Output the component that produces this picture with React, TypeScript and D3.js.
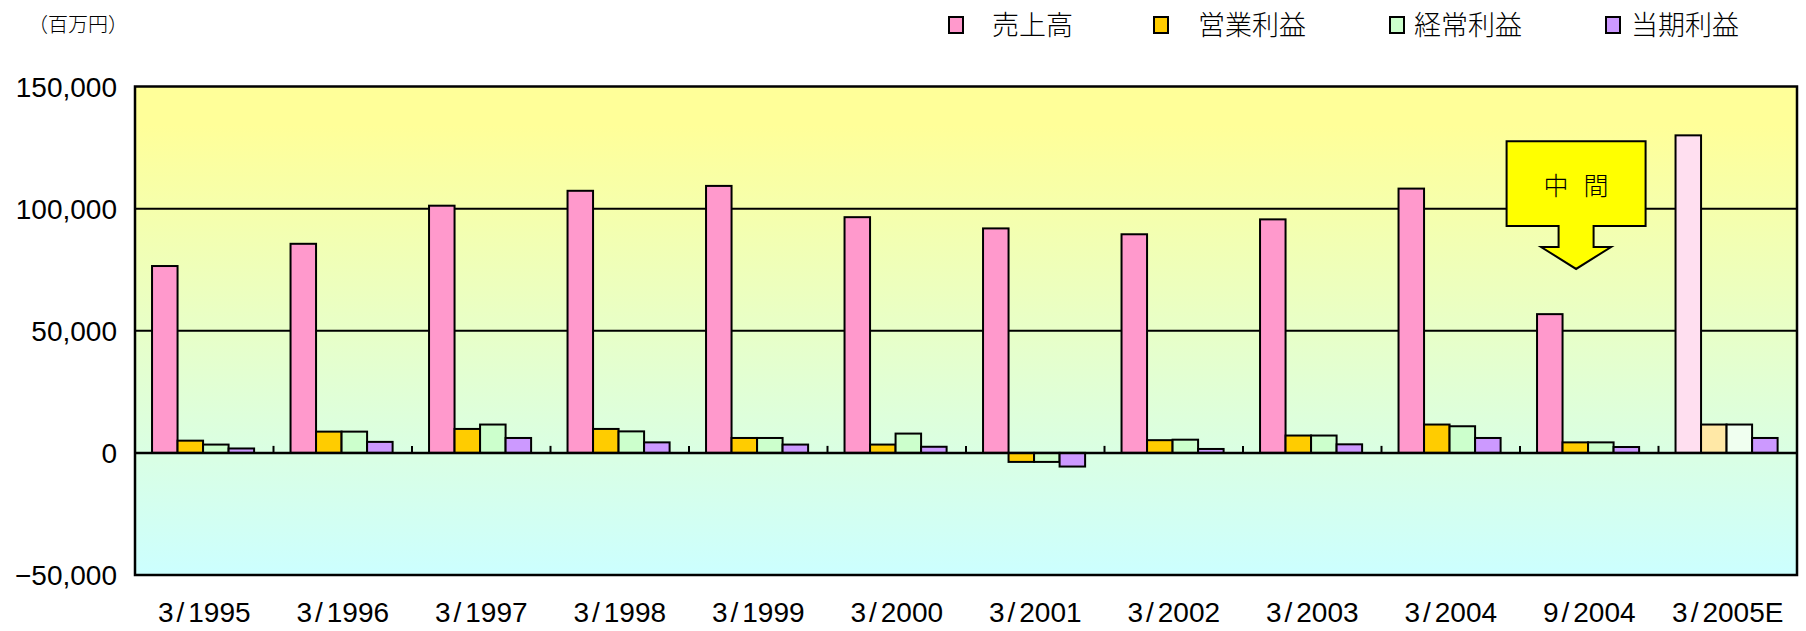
import { useEffect, useRef } from "react"
import * as d3 from "d3"

// categories (fiscal periods)
const categories = [
  "3/1995", "3/1996", "3/1997", "3/1998", "3/1999", "3/2000",
  "3/2001", "3/2002", "3/2003", "3/2004", "9/2004", "3/2005E",
]

// 売上高
const sales = [76500, 85600, 101200, 107300, 109300, 96500, 91900, 89500, 95600, 108200, 56800, 130000]
// 営業利益
const operatingProfit = [5000, 8700, 9800, 9800, 6100, 3400, -3700, 5200, 7100, 11600, 4300, 11600]
// 経常利益
const ordinaryProfit = [3400, 8700, 11600, 8800, 6100, 7900, -3700, 5400, 7100, 10900, 4300, 11600]
// 当期利益
const netProfit = [1800, 4500, 6100, 4300, 3400, 2500, -5600, 1600, 3500, 6100, 2400, 6100]

const seriesNames = ["売上高", "営業利益", "経常利益", "当期利益"]
const seriesColors = ["#ff99cc", "#ffcc00", "#ccffcc", "#cc99ff"]
const estimateColors = ["#ffdff0", "#ffe8a6", "#f0fff0", "#cc99ff"]
const estimateCategory = "3/2005E"

const yTicks = [-50000, 0, 50000, 100000, 150000]

// 中間 callout (value positions for the arrow box)
const calloutCategory = "9/2004"
const calloutChars = ["中", "間"]
const calloutBoxTop = 127600
const calloutBoxBottom = 92900
const calloutStemBottom = 84300
const calloutTip = 75300

export default function App() {
  const svgRef = useRef<SVGSVGElement>(null)

  useEffect(() => {
    if (!svgRef.current) return
    document.body.style.margin = "0"

    const svg = d3.select(svgRef.current)
    svg.selectAll("*").remove()

    const width = 1806
    const height = 631
    const left = 135
    const right = 1797
    const top = 86.5
    const bottom = 575

    svg.attr("width", width).attr("height", height)

    const numFont = "'Liberation Sans', Arial, sans-serif"
    const jpFont = "'Noto Sans CJK JP', sans-serif"

    const x = d3.scaleBand<string>().domain(categories).range([left, right]).padding(0)
    const step = x.bandwidth()
    const xSub = d3
      .scaleBand<number>()
      .domain([0, 1, 2, 3])
      .range([step * 0.123, step * 0.86])
      .padding(0)
    const y = d3.scaleLinear().domain([-50000, 150000]).range([bottom, top])

    // background gradient
    const defs = svg.append("defs")
    const grad = defs
      .append("linearGradient")
      .attr("id", "bg")
      .attr("x1", 0)
      .attr("y1", 0)
      .attr("x2", 0)
      .attr("y2", 1)
    grad.append("stop").attr("offset", "0%").attr("stop-color", "#ffff99")
    grad.append("stop").attr("offset", "8%").attr("stop-color", "#ffff99")
    grad.append("stop").attr("offset", "100%").attr("stop-color", "#ccffff")

    svg
      .append("rect")
      .attr("x", left)
      .attr("y", top)
      .attr("width", right - left)
      .attr("height", bottom - top)
      .attr("fill", "url(#bg)")

    // gridlines
    svg
      .selectAll(".grid")
      .data(yTicks.filter((t) => t > 0 && t < 150000))
      .enter()
      .append("line")
      .attr("x1", left)
      .attr("x2", right)
      .attr("y1", (d) => y(d))
      .attr("y2", (d) => y(d))
      .attr("stroke", "#000")
      .attr("stroke-width", 2)

    // bars
    const seriesValues = [sales, operatingProfit, ordinaryProfit, netProfit]
    const barData = categories.flatMap((cat, ci) =>
      seriesValues.map((vals, si) => ({ cat, si, value: vals[ci] }))
    )
    svg
      .selectAll(".bar")
      .data(barData)
      .enter()
      .append("rect")
      .attr("x", (d) => (x(d.cat) ?? 0) + (xSub(d.si) ?? 0))
      .attr("y", (d) => Math.min(y(d.value), y(0)))
      .attr("width", xSub.bandwidth())
      .attr("height", (d) => Math.abs(y(d.value) - y(0)))
      .attr("fill", (d) => (d.cat === estimateCategory ? estimateColors[d.si] : seriesColors[d.si]))
      .attr("stroke", "#000")
      .attr("stroke-width", 2)

    // zero line
    svg
      .append("line")
      .attr("x1", left)
      .attr("x2", right)
      .attr("y1", y(0))
      .attr("y2", y(0))
      .attr("stroke", "#000")
      .attr("stroke-width", 2.5)

    // category tick marks on zero line
    svg
      .selectAll(".xtick")
      .data(categories.slice(1))
      .enter()
      .append("line")
      .attr("x1", (d) => x(d) ?? 0)
      .attr("x2", (d) => x(d) ?? 0)
      .attr("y1", y(0))
      .attr("y2", y(0) - 7)
      .attr("stroke", "#000")
      .attr("stroke-width", 2)

    // frame
    svg
      .append("rect")
      .attr("x", left)
      .attr("y", top)
      .attr("width", right - left)
      .attr("height", bottom - top)
      .attr("fill", "none")
      .attr("stroke", "#000")
      .attr("stroke-width", 2.5)

    // y axis labels
    svg
      .selectAll(".ylabel")
      .data(yTicks)
      .enter()
      .append("text")
      .attr("x", 117)
      .attr("y", (d) => y(d))
      .attr("dy", "0.36em")
      .attr("text-anchor", "end")
      .style("font-family", numFont)
      .style("font-size", "28px")
      .style("fill", "#000")
      .text((d) => d3.format(",")(d))

    // x axis labels
    const xl = svg
      .selectAll(".xlabel")
      .data(categories)
      .enter()
      .append("text")
      .attr("x", (d) => (x(d) ?? 0) + step / 2)
      .attr("y", 622)
      .attr("text-anchor", "middle")
      .style("font-family", numFont)
      .style("font-size", "28px")
      .style("fill", "#000")
    xl.append("tspan").text((d) => d.split("/")[0])
    xl.append("tspan").attr("dx", 3).text("/")
    xl.append("tspan").attr("dx", 4).text((d) => d.split("/")[1])

    // unit label
    svg
      .append("text")
      .attr("x", 28)
      .attr("y", 25)
      .attr("dy", "0.35em")
      .style("font-family", jpFont)
      .style("font-weight", 300)
      .style("font-size", "20px")
      .style("fill", "#000")
      .text("（百万円）")

    // legend
    const legendX = [949, 1154, 1390, 1606]
    const legendTextOffset = [43, 44, 24, 25]
    const legend = svg
      .selectAll(".legend")
      .data(seriesNames)
      .enter()
      .append("g")
      .attr("transform", (d, i) => `translate(${legendX[i]}, 25)`)
    legend
      .append("rect")
      .attr("x", 0)
      .attr("y", -8)
      .attr("width", 14)
      .attr("height", 16)
      .attr("fill", (d, i) => seriesColors[i])
      .attr("stroke", "#000")
      .attr("stroke-width", 2)
    legend
      .append("text")
      .attr("x", (d, i) => legendTextOffset[i])
      .attr("y", 0)
      .attr("dy", "0.36em")
      .style("font-family", jpFont)
      .style("font-weight", 300)
      .style("font-size", "27px")
      .style("fill", "#000")
      .text((d) => d)

    // 中間 callout arrow
    const cx = (x(calloutCategory) ?? 0) + step * 0.405
    const boxHalf = 69.5
    const stemHalf = 17.5
    const headHalf = 35
    const pts: [number, number][] = [
      [cx - boxHalf, y(calloutBoxTop)],
      [cx + boxHalf, y(calloutBoxTop)],
      [cx + boxHalf, y(calloutBoxBottom)],
      [cx + stemHalf, y(calloutBoxBottom)],
      [cx + stemHalf, y(calloutStemBottom)],
      [cx + headHalf, y(calloutStemBottom)],
      [cx, y(calloutTip)],
      [cx - headHalf, y(calloutStemBottom)],
      [cx - stemHalf, y(calloutStemBottom)],
      [cx - stemHalf, y(calloutBoxBottom)],
      [cx - boxHalf, y(calloutBoxBottom)],
    ]
    svg
      .append("path")
      .attr("d", d3.line()(pts) + "Z")
      .attr("fill", "#ffff00")
      .attr("stroke", "#000")
      .attr("stroke-width", 2)
      .attr("stroke-linejoin", "miter")
    svg
      .selectAll(".callout-char")
      .data(calloutChars)
      .enter()
      .append("text")
      .attr("x", (d, i) => cx + (i === 0 ? -20 : 20))
      .attr("y", (y(calloutBoxTop) + y(calloutBoxBottom)) / 2 + 2)
      .attr("dy", "0.36em")
      .attr("text-anchor", "middle")
      .style("font-family", jpFont)
      .style("font-weight", 300)
      .style("font-size", "25px")
      .style("fill", "#000")
      .text((d) => d)
  }, [])

  return (
    <div>
      <svg ref={svgRef} style={{ display: "block" }}></svg>
    </div>
  )
}
